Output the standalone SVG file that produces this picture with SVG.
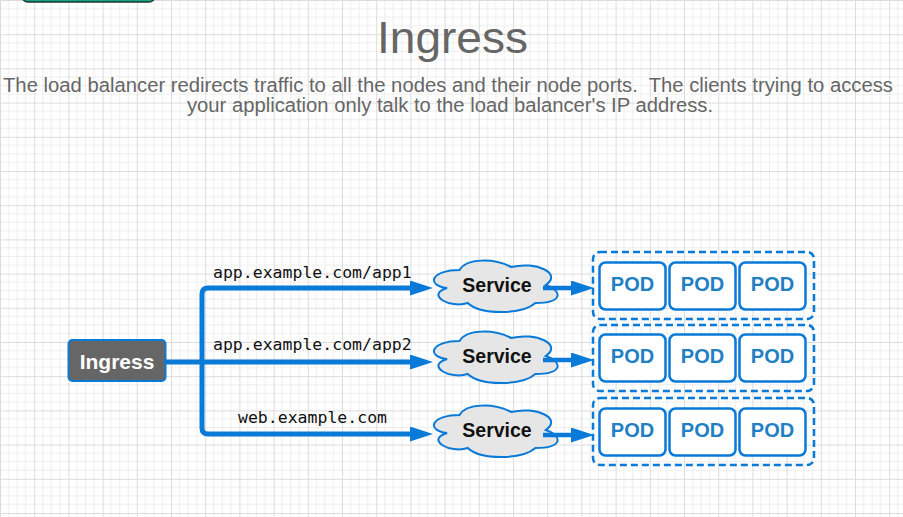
<svg xmlns="http://www.w3.org/2000/svg" width="903" height="517" viewBox="0 0 903 517">
  <defs>
    <pattern id="grid" patternUnits="userSpaceOnUse" x="0" y="0" width="34.2" height="34.2">
      <rect width="34.2" height="34.2" fill="#ffffff"/>
      <path d="M8.55 0V34.2M17.1 0V34.2M25.65 0V34.2M0 8.55H34.2M0 17.1H34.2M0 25.65H34.2" stroke="#eeeeee" stroke-width="1" fill="none"/>
      <path d="M0.5 0V34.2M0 0.5H34.2" stroke="#dcdcdc" stroke-width="1" fill="none"/>
    </pattern>
    <marker id="arrow" markerUnits="userSpaceOnUse" markerWidth="24" markerHeight="15" refX="4" refY="7.5" orient="auto">
      <path d="M0 0L23 7.5L0 15Z" fill="#0a7ad8"/>
    </marker>
    <path id="cloud" d="M34.5 15C6.9 15 0 30 22.08 33C0 39.6 24.84 54 42.78 48C55.2 60 96.6 60 110.4 48C138 48 138 36 120.75 30C138 18 110.4 6 86.25 12C69 3 41.4 3 34.5 15Z"/>
  </defs>
  <style>
    .title { font-family: "Liberation Sans", Arial, sans-serif; fill: #666666; }
    .label { font-family: "DejaVu Sans Mono", "Liberation Mono", monospace; font-size: 16.5px; fill: #111111; }
    .cloud { fill: #e6e6e6; stroke: #0a7ad8; stroke-width: 2; }
    .svc { font-family: "Liberation Sans", Arial, sans-serif; font-weight: bold; font-size: 19.5px; fill: #111111; text-anchor: middle; }
    .group { fill: none; stroke: #0a7ad8; stroke-width: 2.5; stroke-dasharray: 7 4; }
    .pod { fill: #ffffff; stroke: #0a7ad8; stroke-width: 2.5; }
    .podt { font-family: "Liberation Sans", Arial, sans-serif; font-weight: bold; font-size: 20px; fill: #1f80c4; text-anchor: middle; }
    .conn { fill: none; stroke: #0a7ad8; stroke-width: 5; stroke-linejoin: round; }
    .conn2 { fill: none; stroke: #0a7ad8; stroke-width: 4.5; }
  </style>

  <rect x="0" y="0" width="903" height="517" fill="url(#grid)"/>

  <g id="top-button">
    <rect x="22" y="-20" width="133" height="22" rx="6" fill="#18a084" stroke="#1b3a32" stroke-width="1.5"/>
  </g>

  <g id="heading">
    <text class="title" x="377" y="53" font-size="44" textLength="151" lengthAdjust="spacingAndGlyphs">Ingress</text>
    <text class="title" x="3" y="92" font-size="20" textLength="890" lengthAdjust="spacingAndGlyphs">The load balancer redirects traffic to all the nodes and their node ports.&#160; The clients trying to access</text>
    <text class="title" x="187" y="112" font-size="20" textLength="526" lengthAdjust="spacingAndGlyphs">your application only talk to the load balancer's IP address.</text>
  </g>

  <g id="ingress">
    <rect x="68.5" y="340" width="97" height="41" rx="4" fill="#666666" stroke="#0a7ad8" stroke-width="2"/>
    <text x="117" y="369" font-family="Liberation Sans, Arial, sans-serif" font-weight="bold" font-size="21" fill="#ffffff" text-anchor="middle">Ingress</text>
  </g>

  <g id="service1">
    <use href="#cloud" class="cloud" transform="translate(425,255)"/>
    <text class="svc" x="497" y="292">Service</text>
  </g>
  <g id="service2">
    <use href="#cloud" class="cloud" transform="translate(425,326)"/>
    <text class="svc" x="497" y="363">Service</text>
  </g>
  <g id="service3">
    <use href="#cloud" class="cloud" transform="translate(425,400)"/>
    <text class="svc" x="497" y="437">Service</text>
  </g>

  <g id="pods1">
    <rect class="group" x="593" y="252" width="221" height="67" rx="7"/>
    <rect class="pod" x="599.5" y="262.5" width="66" height="47" rx="6"/>
    <rect class="pod" x="669.5" y="262.5" width="66" height="47" rx="6"/>
    <rect class="pod" x="739.5" y="262.5" width="66" height="47" rx="6"/>
    <text class="podt" x="632.5" y="291">POD</text>
    <text class="podt" x="702.5" y="291">POD</text>
    <text class="podt" x="772.5" y="291">POD</text>
  </g>
  <g id="pods2">
    <rect class="group" x="593" y="325" width="221" height="66" rx="7"/>
    <rect class="pod" x="599.5" y="334.5" width="66" height="47" rx="6"/>
    <rect class="pod" x="669.5" y="334.5" width="66" height="47" rx="6"/>
    <rect class="pod" x="739.5" y="334.5" width="66" height="47" rx="6"/>
    <text class="podt" x="632.5" y="363">POD</text>
    <text class="podt" x="702.5" y="363">POD</text>
    <text class="podt" x="772.5" y="363">POD</text>
  </g>
  <g id="pods3">
    <rect class="group" x="593" y="398" width="221" height="67" rx="7"/>
    <rect class="pod" x="599.5" y="408.5" width="66" height="47" rx="6"/>
    <rect class="pod" x="669.5" y="408.5" width="66" height="47" rx="6"/>
    <rect class="pod" x="739.5" y="408.5" width="66" height="47" rx="6"/>
    <text class="podt" x="632.5" y="437">POD</text>
    <text class="podt" x="702.5" y="437">POD</text>
    <text class="podt" x="772.5" y="437">POD</text>
  </g>

  <g id="connectors">
    <path class="conn" d="M166 362H414" marker-end="url(#arrow)"/>
    <path class="conn" d="M202 362V294Q202 288 208 288H414" marker-end="url(#arrow)"/>
    <path class="conn" d="M202 362V428Q202 434 208 434H414" marker-end="url(#arrow)"/>
    <path class="conn2" d="M543 288H575" marker-end="url(#arrow)"/>
    <path class="conn2" d="M543 360H575" marker-end="url(#arrow)"/>
    <path class="conn2" d="M543 435H575" marker-end="url(#arrow)"/>
    <text class="label" x="213" y="278">app.example.com/app1</text>
    <text class="label" x="213" y="350">app.example.com/app2</text>
    <text class="label" x="238" y="423">web.example.com</text>
  </g>
</svg>
